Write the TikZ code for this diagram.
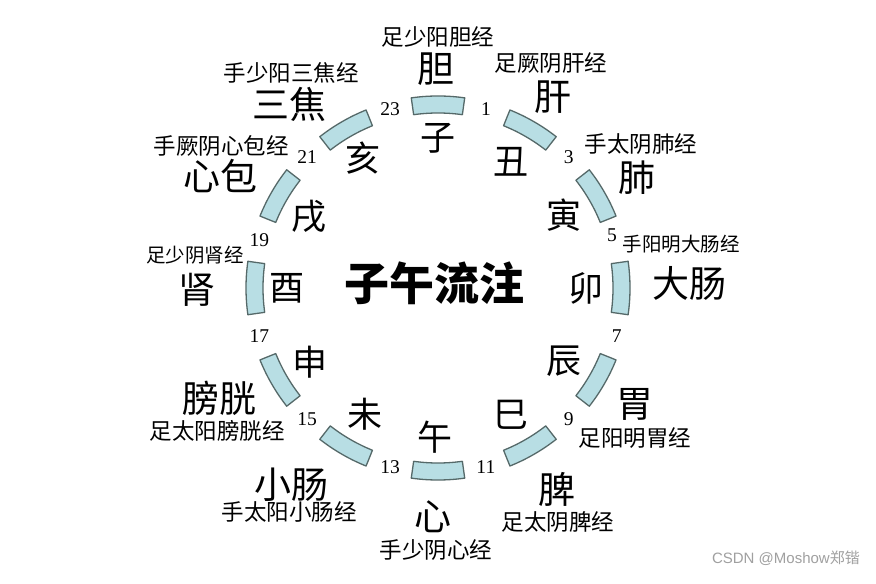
\documentclass[tikz,border=0pt]{standalone}
\usepackage{fontspec}
\setmainfont{Noto Sans CJK SC}
\newfontfamily\numfont{Liberation Serif}
\newfontfamily\wmfont{Liberation Sans}
\definecolor{segfill}{RGB}{184,222,228}
\definecolor{segline}{RGB}{85,105,105}
\definecolor{wmgray}{RGB}{160,160,160}
\begin{document}
\begin{tikzpicture}[x=1pt,y=1pt,
  seg/.style={draw=segline,fill=segfill,line width=1.3pt,line join=round},
  num/.style={inner sep=0pt,font=\numfont\fontsize{19.5}{19.5}\selectfont},
  branch/.style={inner sep=0pt,font=\fontsize{35}{35}\selectfont},
  organ/.style={inner sep=0pt,font=\fontsize{37}{37}\selectfont},
  merid/.style={inner sep=0pt,font=\fontsize{22.5}{22.5}\selectfont},
  meridsm/.style={inner sep=0pt,font=\fontsize{19.5}{19.5}\selectfont},
  title/.style={inner sep=0pt,font=\bfseries\fontsize{45}{45}\selectfont}]
\useasboundingbox (0,0) rectangle (876,584);
\fill[white] (0,0) rectangle (876,584);
\coordinate (O) at (438,296);
\begin{scope}[shift={(O)}]
  \foreach \a in {90,60,...,-240} {
    \draw[seg] (\a-8:175) arc[start angle=\a-8,end angle=\a+8,radius=175]
      -- (\a+8:192) arc[start angle=\a+8,end angle=\a-8,radius=192] -- cycle;
  }
  \foreach \n/\a in {1/75,3/45,7/-15,9/-45,11/-75,13/-105,15/-135,17/-165,19/165,21/135,23/105}
    \node[num] (n\n) at (\a:185) {\n};
  \node[num] (n5) at (17:182) {5};
  \node[branch] (zi)   at (90:150)  {子};
  \node[branch] (chou) at (60:146)  {丑};
  \node[branch] (yin)  at (30:146)  {寅};
  \node[branch] (mao)  at (0:148)   {卯};
  \node[branch] (chen) at (-30:146) {辰};
  \node[branch] (si)   at (-60:146) {巳};
  \node[branch] (wu)   at (-91:149) {午};
  \node[branch] (wei)  at (-120:146) {未};
  \node[branch] (shen) at (-150:148) {申};
  \node[branch] (you)  at (180:151) {酉};
  \node[branch] (xu)   at (151:148) {戌};
  \node[branch] (hai)  at (120:150) {亥};
\end{scope}
\node[title] (t) at (434,301) {子午流注};
% organs
\node[organ] (dan)   at (436,515) {胆};
\node[organ] (gan)   at (553,487) {肝};
\node[organ] (sj)    at (289,480) {三焦};
\node[organ] (xb)    at (220,408) {心包};
\node[organ] (shenz) at (197,294) {肾};
\node[organ] (fei)   at (637,406) {肺};
\node[organ] (dc)    at (689,301) {大肠};
\node[organ] (weiz)  at (635,180) {胃};
\node[organ] (pi)    at (557,95)  {脾};
\node[organ] (xin)   at (433,67)  {心};
\node[organ] (xc)    at (291,99)  {小肠};
\node[organ] (pg)    at (219,186) {膀胱};
% meridians
\node[merid] (m1)  at (438,547) {足少阳胆经};
\node[merid] (m2)  at (551,521) {足厥阴肝经};
\node[merid] (m3)  at (291,511) {手少阳三焦经};
\node[merid] (m4)  at (221,438) {手厥阴心包经};
\node[meridsm] (m5) at (195,329) {足少阴肾经};
\node[merid] (m6)  at (641,440) {手太阴肺经};
\node[meridsm] (m7) at (681,340) {手阳明大肠经};
\node[merid] (m8)  at (635,146) {足阳明胃经};
\node[merid] (m9)  at (558,62)  {足太阴脾经};
\node[merid] (m10) at (436,34)  {手少阴心经};
\node[merid] (m11) at (289,72)  {手太阳小肠经};
\node[merid] (m12) at (217,153) {足太阳膀胱经};
% watermark
\node[inner sep=0pt,anchor=east,text=wmgray,font=\fontsize{15}{15}\selectfont] (wm) at (860,26) {{\wmfont CSDN @Moshow}郑锴};
\end{tikzpicture}
\end{document}
